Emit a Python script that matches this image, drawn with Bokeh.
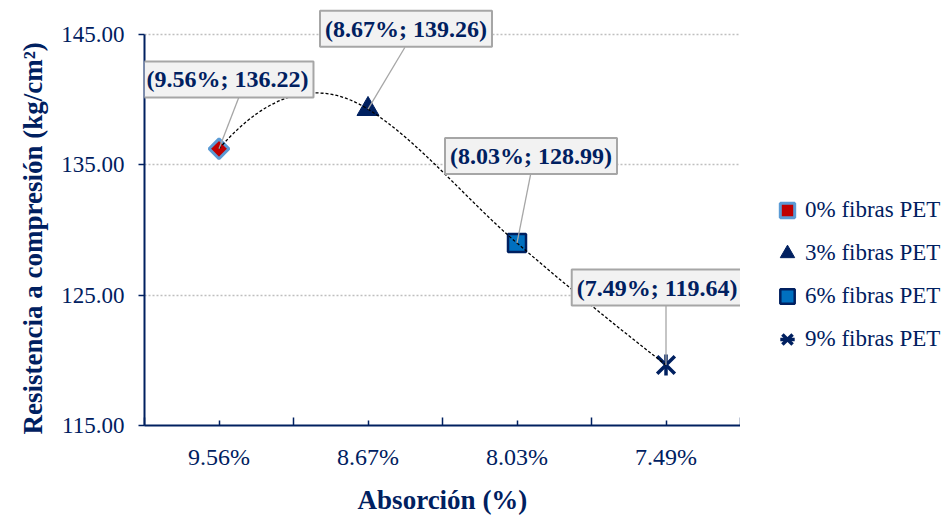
import numpy as np
from bokeh.plotting import figure
from bokeh.layouts import row
from bokeh.models import (Range1d, FixedTicker, NumeralTickFormatter, Label,
                          Legend, LegendItem, Title)
from bokeh.embed import file_html
from bokeh.resources import INLINE

# ---------------- data ----------------
categories = ["9.56%", "8.67%", "8.03%", "7.49%"]          # Absorción (%)
resistance = [136.22, 139.26, 128.99, 119.64]              # kg/cm2
series_names = ["0% fibras PET", "3% fibras PET", "6% fibras PET", "9% fibras PET"]
y_ticks = [115, 125, 135, 145]

# ---------------- layout of annotation boxes (data units) ----------------
label_centers = [(1.057, 141.54), (2.255, 145.42), (3.094, 135.67), (3.94, 125.58)]
leader_ends = [(1.134, 140.2), (2.248, 144.01), (3.094, 134.42), (4.0, 124.29)]

NAVY = "#002060"
FONT = "Liberation Serif"

H = 517
LEFT, BOTTOM = 144, 89
AX_W, AX_H = 596.0, 394.0
TOP_EXTRA = 26
TOP = 34 - TOP_EXTRA
y_top = 145 + TOP_EXTRA * (145 - 115) / AX_H

xs = list(range(1, len(categories) + 1))
x_lo, x_hi = 0.5, len(categories) + 0.5

p = figure(width=LEFT + int(AX_W), height=H, x_range=Range1d(x_lo, x_hi), y_range=Range1d(115, y_top),
           output_backend="svg", toolbar_location=None,
           min_border_left=LEFT, min_border_right=0, min_border_top=TOP,
           min_border_bottom=BOTTOM)
p.outline_line_color = None
p.background_fill_color = "white"
p.border_fill_color = "white"

# grid
p.xgrid.visible = False
p.ygrid.ticker = FixedTicker(ticks=y_ticks)
p.ygrid.grid_line_color = "#bfbfbf"
p.ygrid.grid_line_dash = "2 2"
p.ygrid.grid_line_width = 1.5

# y axis
ya_ = p.yaxis[0]
ya_.ticker = FixedTicker(ticks=y_ticks)
ya_.bounds = (115, 145)
ya_.formatter = NumeralTickFormatter(format="0.00")
ya_.axis_line_color = NAVY
ya_.axis_line_width = 2
ya_.major_tick_line_color = NAVY
ya_.major_tick_line_width = 1.5
ya_.major_tick_out = 6
ya_.major_tick_in = 0
ya_.minor_tick_line_color = None
ya_.major_label_text_font = FONT
ya_.major_label_text_font_size = "23px"
ya_.major_label_text_color = NAVY
ya_.major_label_standoff = 14

p.add_layout(Title(text="Resistencia a compresión (kg/cm²)", text_font=FONT,
                   text_font_size="27px", text_font_style="bold", text_color=NAVY,
                   align="left", offset=-9, vertical_align="middle", standoff=20), "left")

# x axis
xa_ = p.xaxis[0]
xa_.ticker = FixedTicker(ticks=xs, minor_ticks=[i + 0.5 for i in range(len(categories) + 1)])
xa_.major_label_overrides = {x: c for x, c in zip(xs, categories)}
xa_.axis_line_color = NAVY
xa_.axis_line_width = 2
xa_.major_tick_line_color = NAVY
xa_.major_tick_line_width = 1.5
xa_.major_tick_in = 5
xa_.major_tick_out = 0
xa_.minor_tick_line_color = NAVY
xa_.minor_tick_line_width = 1.5
xa_.minor_tick_in = 8
xa_.minor_tick_out = 0
xa_.major_label_text_font = FONT
xa_.major_label_text_font_size = "24px"
xa_.major_label_text_color = NAVY
xa_.major_label_standoff = 18
xa_.axis_label = "Absorción (%)"
xa_.axis_label_text_font = FONT
xa_.axis_label_text_font_size = "27px"
xa_.axis_label_text_font_style = "bold"
xa_.axis_label_text_color = NAVY
xa_.axis_label_standoff = 12

# ---------------- marker styles ----------------
styles = [
    dict(marker="square", angle=np.pi / 4, size=14, fill_color="#c00000", line_color="#5b9bd5", line_width=3),
    dict(marker="triangle", size=22, fill_color=NAVY, line_color=NAVY, line_width=1),
    dict(marker="square", size=18, fill_color="#0070c0", line_color=NAVY, line_width=2.5),
]
star_x = dict(marker="x", size=25, line_color=NAVY, line_width=3.5)
star_bar = dict(marker="dash", angle=np.pi / 2, size=21, line_color=NAVY, line_width=3.5)

for i, st in enumerate(styles):
    p.scatter([xs[i]], [resistance[i]], **st)
p.scatter([xs[3]], [resistance[3]], **star_x)
p.scatter([xs[3]], [resistance[3]], **star_bar)

# ---------------- smoothed connecting curve (cubic Bezier from data) ----------------
xa = np.array(xs, dtype=float)
yv = np.array(resistance, dtype=float)
h = np.diff(xa)
s = np.diff(yv) / h
d = np.hypot(h, np.diff(yv))
n = len(xa)
m = np.zeros(n)
for i in range(1, n - 1):
    m[i] = (d[i - 1] * s[i - 1] + d[i] * s[i]) / (d[i - 1] + d[i])
m[0] = 2 * s[0] - m[1]
m[-1] = 2 * s[-1] - m[-2]
p.bezier(x0=xa[:-1], y0=yv[:-1], x1=xa[1:], y1=yv[1:],
         cx0=xa[:-1] + h / 3, cy0=yv[:-1] + m[:-1] * h / 3,
         cx1=xa[1:] - h / 3, cy1=yv[1:] - m[1:] * h / 3,
         line_color="black", line_width=1.3, line_dash="3 2")

# ---------------- leader lines ----------------
p.segment(x0=xs, y0=resistance, x1=[e[0] for e in leader_ends], y1=[e[1] for e in leader_ends],
          line_color="#a6a6a6", line_width=1.3)

# ---------------- data labels ----------------
for (cx, cy), cat, val in zip(label_centers, categories, resistance):
    p.add_layout(Label(x=cx, y=cy, text=f"({cat}; {val:.2f})",
                       text_font=FONT, text_font_size="24px", text_font_style="bold",
                       text_color=NAVY, text_align="center", text_baseline="middle",
                       background_fill_color="#f2f2f2", border_line_color="#a6a6a6",
                       border_line_width=2, padding=5))

# ---------------- legend (separate panel to the right, frame aligned with the chart) ----------------
LEG_LEFT = 29
lf = figure(width=950 - (LEFT + int(AX_W)), height=H, x_range=Range1d(-1, 0), y_range=Range1d(-1, 0),
            output_backend="svg", toolbar_location=None, x_axis_type=None, y_axis_type=None,
            min_border_left=LEG_LEFT, min_border_right=0, min_border_top=TOP, min_border_bottom=BOTTOM)
lf.outline_line_color = None
lf.grid.visible = False
lf.background_fill_color = "white"
lf.border_fill_color = "white"
# series points lie outside this panel's ranges: only their legend glyphs are drawn
lr = [lf.scatter([xs[i]], [resistance[i]], **st) for i, st in enumerate(styles)]
lr_star = [lf.scatter([xs[3]], [resistance[3]], **star_x),
           lf.scatter([xs[3]], [resistance[3]], **star_bar)]

legend = Legend(items=[LegendItem(label=series_names[0], renderers=[lr[0]]),
                       LegendItem(label=series_names[1], renderers=[lr[1]]),
                       LegendItem(label=series_names[2], renderers=[lr[2]]),
                       LegendItem(label=series_names[3], renderers=lr_star)],
                location=(0, 68), orientation="vertical",
                border_line_color=None, background_fill_alpha=0,
                label_text_font=FONT, label_text_font_size="23px", label_text_color=NAVY,
                glyph_width=36, glyph_height=36, label_height=36, spacing=7,
                padding=0, margin=0, label_standoff=0)
lf.add_layout(legend)

layout = row(p, lf)
open("out.html", "w").write(file_html(layout, INLINE))
